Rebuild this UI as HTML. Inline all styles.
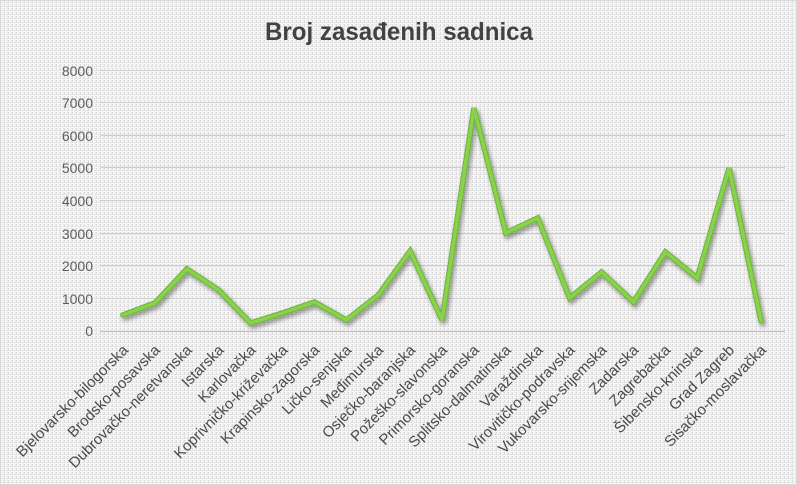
<!DOCTYPE html>
<html>
<head>
<meta charset="utf-8">
<style>
  html, body { margin: 0; padding: 0; }
  body { width: 797px; height: 485px; overflow: hidden; background: #f2f2f2; }
  svg { display: block; }
  .ylab { font-family: "Liberation Sans", sans-serif; font-size: 14px; fill: #5e5e5e; }
  .xlab { font-family: "Liberation Sans", sans-serif; font-size: 15px; fill: #4a4a4a; }
  .title { font-family: "Liberation Sans", sans-serif; font-size: 25px; font-weight: bold; fill: #424242; }
</style>
</head>
<body>
<svg width="797" height="485" viewBox="0 0 797 485" xmlns="http://www.w3.org/2000/svg">
  <defs>
    <pattern id="linen" width="4" height="4" patternUnits="userSpaceOnUse">
      <rect width="4" height="4" fill="#f6f6f6"/>
      <rect x="0" y="0" width="1" height="3" fill="#dcdcdc"/>
      <rect x="2" y="2" width="2" height="1" fill="#e0e0e0"/>
      <rect x="3" y="0" width="1" height="1" fill="#e6e6e6"/>
    </pattern>
    <filter id="shadow" x="-10%" y="-10%" width="120%" height="130%">
      <feGaussianBlur in="SourceAlpha" stdDeviation="2"/>
      <feOffset dx="2" dy="3" result="ob"/>
      <feComponentTransfer><feFuncA type="linear" slope="0.4"/></feComponentTransfer>
      <feMerge><feMergeNode/><feMergeNode in="SourceGraphic"/></feMerge>
    </filter>
  </defs>
  <rect width="797" height="485" fill="url(#linen)"/>
  <rect x="0.5" y="0.5" width="796" height="484" fill="none" stroke="#d8d8d8" stroke-width="1"/>

  <text class="title" x="399" y="40" text-anchor="middle" textLength="268" lengthAdjust="spacingAndGlyphs">Broj zasađenih sadnica</text>

  <!-- gridlines -->
  <g stroke="#cfcfcf" stroke-width="1">
    <line x1="100" y1="70.5" x2="785" y2="70.5"/>
    <line x1="100" y1="102.5" x2="785" y2="102.5"/>
    <line x1="100" y1="135.5" x2="785" y2="135.5"/>
    <line x1="100" y1="167.5" x2="785" y2="167.5"/>
    <line x1="100" y1="200.5" x2="785" y2="200.5"/>
    <line x1="100" y1="233.5" x2="785" y2="233.5"/>
    <line x1="100" y1="265.5" x2="785" y2="265.5"/>
    <line x1="100" y1="298.5" x2="785" y2="298.5"/>
  </g>
  <line x1="100" y1="331.5" x2="785" y2="331.5" stroke="#c4c4c4" stroke-width="1"/>

  <!-- y labels -->
  <g class="ylab" text-anchor="end">
    <text x="93" y="76">8000</text>
    <text x="93" y="108">7000</text>
    <text x="93" y="141">6000</text>
    <text x="93" y="173">5000</text>
    <text x="93" y="206">4000</text>
    <text x="93" y="239">3000</text>
    <text x="93" y="271">2000</text>
    <text x="93" y="304">1000</text>
    <text x="93" y="336">0</text>
  </g>

  <!-- series -->
  <g filter="url(#shadow)">
    <polyline fill="none" stroke="#6cb538" stroke-width="5.5" stroke-linejoin="miter" stroke-miterlimit="3" stroke-linecap="round"
      points="123,315 154.9,303 186.8,269 218.7,290 250.6,323 282.5,313 314.4,302 346.3,320 378.2,295 410.1,251 442,320 473.9,108 505.8,233 537.7,218 569.6,298 601.5,272 633.4,302 665.3,252 697.2,278 729.1,168 761,321"/>
    <polyline fill="none" stroke="#8ad24e" stroke-width="3.5" stroke-linejoin="miter" stroke-miterlimit="3" stroke-linecap="round"
      points="123,315 154.9,303 186.8,269 218.7,290 250.6,323 282.5,313 314.4,302 346.3,320 378.2,295 410.1,251 442,320 473.9,108 505.8,233 537.7,218 569.6,298 601.5,272 633.4,302 665.3,252 697.2,278 729.1,168 761,321"/>
  </g>

  <!-- x labels -->
  <g class="xlab" text-anchor="end">
    <text transform="translate(129,351) rotate(-45)">Bjelovarsko-bilogorska</text>
    <text transform="translate(160.9,351) rotate(-45)">Brodsko-posavska</text>
    <text transform="translate(192.8,351) rotate(-45)">Dubrovačko-neretvanska</text>
    <text transform="translate(224.7,351) rotate(-45)">Istarska</text>
    <text transform="translate(256.6,351) rotate(-45)">Karlovačka</text>
    <text transform="translate(288.5,351) rotate(-45)">Koprivničko-križevačka</text>
    <text transform="translate(320.4,351) rotate(-45)">Krapinsko-zagorska</text>
    <text transform="translate(352.3,351) rotate(-45)">Ličko-senjska</text>
    <text transform="translate(384.2,351) rotate(-45)">Međimurska</text>
    <text transform="translate(416.1,351) rotate(-45)">Osječko-baranjska</text>
    <text transform="translate(448,351) rotate(-45)">Požeško-slavonska</text>
    <text transform="translate(479.9,351) rotate(-45)">Primorsko-goranska</text>
    <text transform="translate(511.8,351) rotate(-45)">Splitsko-dalmatinska</text>
    <text transform="translate(543.7,351) rotate(-45)">Varaždinska</text>
    <text transform="translate(575.6,351) rotate(-45)">Virovitičko-podravska</text>
    <text transform="translate(607.5,351) rotate(-45)">Vukovarsko-srijemska</text>
    <text transform="translate(639.4,351) rotate(-45)">Zadarska</text>
    <text transform="translate(671.3,351) rotate(-45)">Zagrebačka</text>
    <text transform="translate(703.2,351) rotate(-45)">Šibensko-kninska</text>
    <text transform="translate(735.1,351) rotate(-45)">Grad Zagreb</text>
    <text transform="translate(767,351) rotate(-45)">Sisačko-moslavačka</text>
  </g>
</svg>
</body>
</html>
